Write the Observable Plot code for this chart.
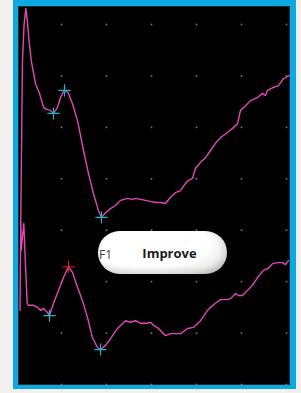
<!DOCTYPE html>
<html>
<head>
<meta charset="utf-8">
<script src="https://cdn.jsdelivr.net/npm/d3@7"></script>
<script src="https://cdn.jsdelivr.net/npm/@observablehq/plot@0.6"></script>
<style>
  html, body { margin: 0; padding: 0; background: #f2f0ee; }
  #wrap { position: relative; width: 301px; height: 393px; overflow: hidden; }
  #blue { position: absolute; left: 13px; top: 0; width: 283px; height: 389px; background: #0aa9e3; }
  #black { position: absolute; left: 18px; top: 6px; width: 270px; height: 377px; background: #000; border: 1px solid #2a2a2a; }
  #chart { position: absolute; left: 0; top: 0; }
  #chart svg { display: block; }
  #btn { position: absolute; left: 98px; top: 231px; width: 129px; height: 43px; border-radius: 22px;
         background: radial-gradient(ellipse 75% 90% at 40% 30%, #ffffff 60%, #ececec 85%, #cfcfcf 100%);
         box-shadow: inset -3px -3px 6px rgba(0,0,0,0.12); }
  #btnText { position: absolute; left: 98px; top: 231px; width: 143px; height: 43px; text-align: center;
             font: bold 13px "Open Sans", sans-serif; line-height: 45px; color: #1a1a1a; }
  #f1 { position: absolute; left: 99px; top: 247px; font: 12px "Open Sans", sans-serif; line-height: 16px; color: #3c3c3c; }
</style>
</head>
<body>
<div id="wrap">
  <div id="blue"></div>
  <div id="black"></div>
  <div id="chart"></div>
  <div id="btn"></div>
  <div id="btnText">Improve</div>
  <div id="f1">F1</div>
</div>
<script>
// time (ms) and amplitude values
const upperT = [0.78,0.89,1.11,1.33,1.67,2.07,2.44,2.78,3.27,3.56,4.22,5.11,5.78,6.0,6.67,7.56,8.22,9.11,9.78,10.22,10.67,11.11,11.56,12.44,13.56,14.0,14.89,16.0,17.11,18.22,18.89,19.78,20.89,22.0,23.11,24.67,25.78,26.44,27.56,28.67,29.78,30.89,32.0,33.11,34.22,35.33,36.44,37.56,38.22,39.11,39.78,40.89,42.0,43.11,44.22,45.33,46.89,48.0,49.11,49.78,50.89,52.0,53.56,54.67,55.33,55.78,56.89,58.22,59.33,60.67];
const upperV = [14.4,26.1,45.5,63.0,69.8,73.1,70.4,66.9,63.0,61.6,58.5,56.6,54.6,53.9,53.5,53.3,52.7,53.9,55.8,56.6,57.2,57.0,56.6,54.6,51.3,49.4,45.5,41.0,37.1,33.8,32.5,33.4,34.2,34.8,35.8,36.2,36.0,36.2,36.0,35.8,35.6,35.4,35.4,35.2,36.4,37.3,37.7,39.1,39.7,40.1,42.0,43.2,44.1,45.5,46.9,48.0,49.0,49.8,50.7,53.3,54.2,55.2,55.8,56.6,56.2,57.2,57.7,58.1,59.5,60.1];
const lowerT = [0.89,1.04,1.62,2.0,2.38,2.67,3.78,4.67,5.33,6.0,6.89,7.33,8.22,9.33,10.44,11.56,12.44,13.56,14.67,15.78,16.89,18.0,18.67,19.78,20.89,22.44,24.22,25.33,26.44,27.56,29.11,29.78,30.44,31.56,33.11,34.22,36.44,38.0,39.33,40.89,42.44,43.11,44.22,45.33,46.89,47.56,48.67,49.33,50.22,51.33,52.44,53.56,54.89,56.0,56.89,58.0,59.11,59.78,60.44];
const lowerV = [31.5,26.1,31.3,23.1,15.8,15.4,15.4,15.0,14.4,14.8,14.0,13.4,15.8,18.3,20.8,22.9,21.8,18.9,16.3,13.0,9.1,7.2,6.8,7.6,8.9,10.9,12.4,12.1,12.4,11.9,11.9,12.1,11.5,10.9,9.5,9.9,9.9,10.9,11.1,12.4,14.4,15.0,15.8,16.5,16.5,16.7,17.7,17.3,17.3,18.3,19.3,20.8,22.2,22.6,23.5,23.7,23.7,23.3,24.1];
// cursor markers
const markerT = [8.22,10.67,18.89,7.33,11.56,18.67];
const markerV = [52.7,57.2,32.5,13.4,22.9,6.8];
const markerColor = ["#1cb8c4","#1cb8c4","#1cb8c4","#1cb8c4","#e8141c","#1cb8c4"];
// grid divisions
const gridT = [10,20,30,40,50,60];
const gridV = [0,10,20,30,40,50,60,70];

const upper = upperT.map((t, i) => ({t, v: upperV[i]}));
const lower = lowerT.map((t, i) => ({t, v: lowerV[i]}));
const markers = markerT.map((t, i) => ({t, v: markerV[i], c: markerColor[i]}));
const grid = gridT.flatMap(t => gridV.map(v => ({t, v})));

const chart = Plot.plot({
  width: 301,
  height: 393,
  marginLeft: 16,
  marginRight: 15,
  marginTop: 24,
  marginBottom: 9,
  x: {domain: [0, 60], axis: null},
  y: {domain: [0, 70], axis: null},
  style: {background: "transparent", overflow: "visible"},
  marks: [
    Plot.dot(grid, {x: "t", y: "v", symbol: "square", r: 0.9, fill: "#7a7a7a", stroke: null}),
    Plot.line(upper, {x: "t", y: "v", stroke: "#e247b9", strokeWidth: 1.4}),
    Plot.line(lower, {x: "t", y: "v", stroke: "#e247b9", strokeWidth: 1.4}),
    Plot.dot(markers, {x: "t", y: "v", symbol: "plus", r: 4, stroke: "c", strokeWidth: 1.2})
  ]
});
document.getElementById("chart").appendChild(chart);
</script>
</body>
</html>
